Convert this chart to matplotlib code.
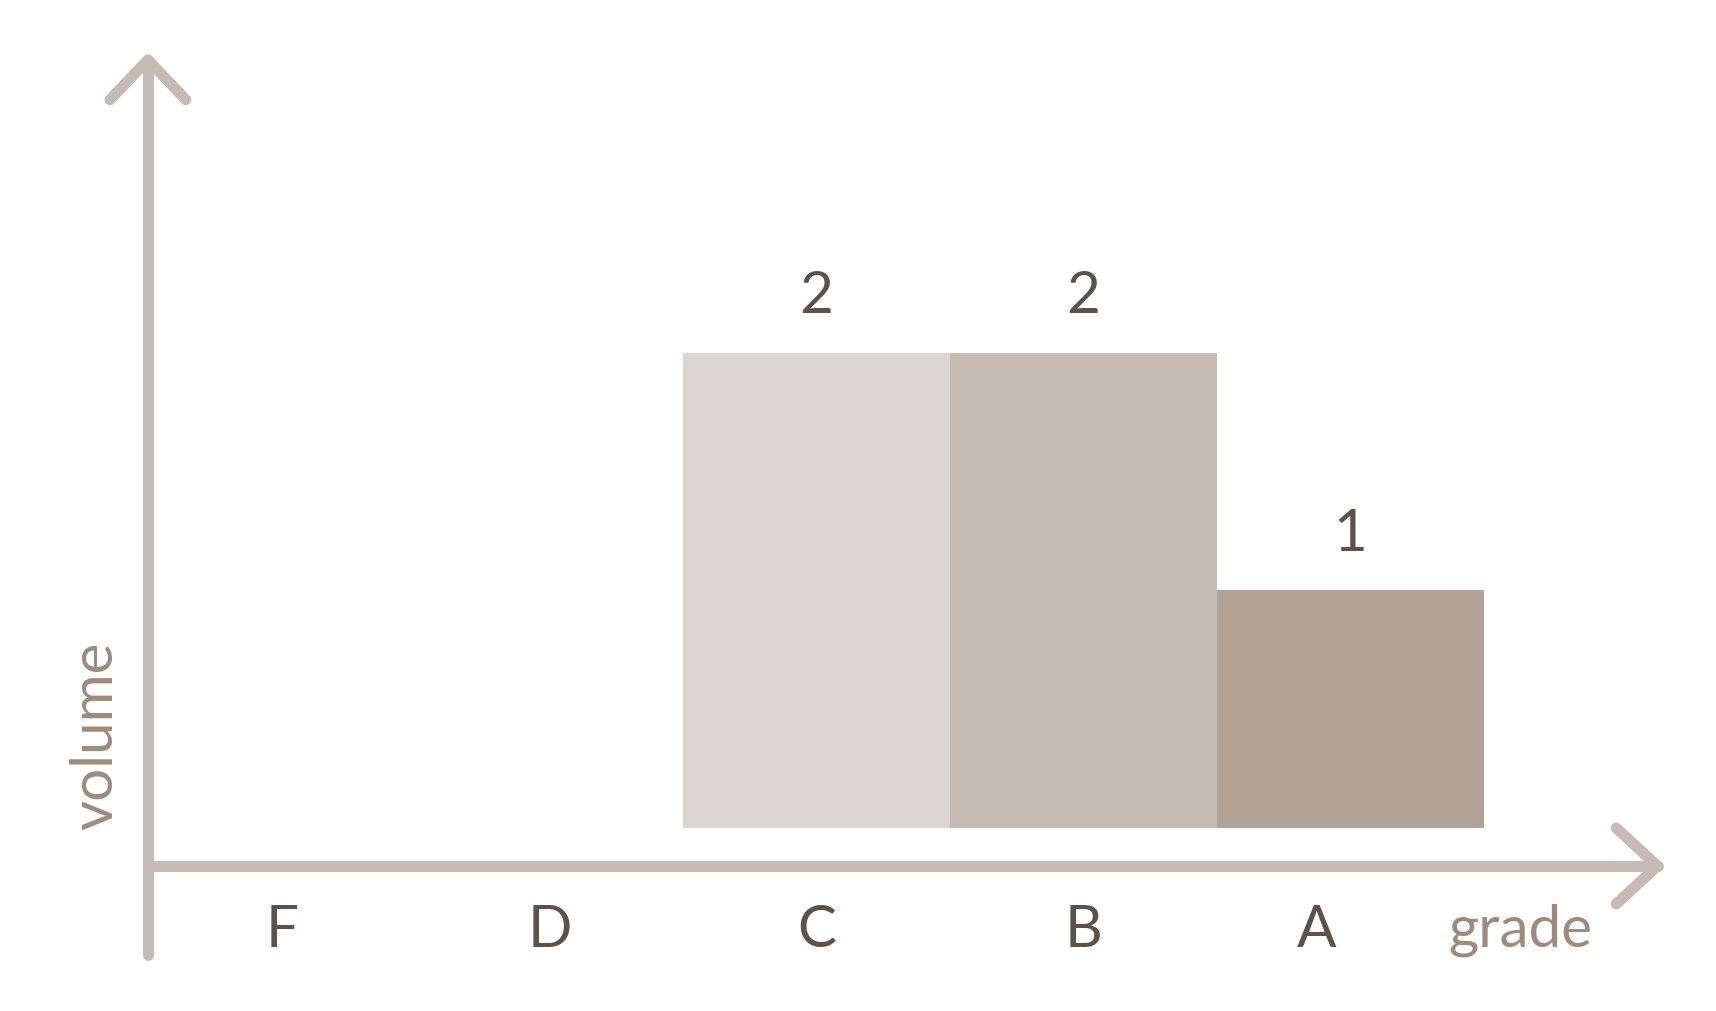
import matplotlib.pyplot as plt

plt.rcParams['font.family'] = ['Lato', 'DejaVu Sans']

grades = ["F", "D", "C", "B", "A"]
volume = [0, 0, 2, 2, 1]
bar_colors = ["#dbd6d1", "#dbd6d1", "#dbd6d1", "#c6bbb2", "#b0a296"]
# the last category label is nudged left to leave room for "grade"
label_shift = [0, 0, 0, 0, -0.126]

axis_col = "#c6bbb2"
dark = "#5e5248"
label_col = "#9d8b7b"

fig = plt.figure(figsize=(17.16, 10.11), dpi=100)
ax = fig.add_axes([0, 0, 1, 1])
ax.set_xlim(-1.058, 5.369)
ax.set_ylim(-0.7705, 3.486)
ax.axis("off")

x = list(range(len(grades)))
ax.bar(x, volume, width=1.0, color=bar_colors, linewidth=0)

# value labels above non-empty bars
for xi, v in zip(x, volume):
    if v > 0:
        ax.text(xi, v + 0.168, str(v), ha="center", va="baseline",
                fontsize=42, color=dark)

# category labels
for xi, g, s in zip(x, grades, label_shift):
    ax.text(xi + s, -0.50, g, ha="center", va="baseline", fontsize=42, color=dark)

# axes drawn as lines with open arrow heads
lw = 7.9
kw = dict(color=axis_col, lw=lw, solid_capstyle="round", solid_joinstyle="round")
ax.plot([-0.504, -0.504], [-0.535, 3.234], **kw)
ax.plot([-0.646, -0.504, -0.362], [3.066, 3.234, 3.066], **kw)
ax.plot([-0.504, 5.15], [-0.16, -0.16], **kw)
ax.plot([4.995, 5.15, 4.995], [0.0, -0.16, -0.32], **kw)

ax.text(4.635, -0.50, "grade", ha="center", va="baseline", fontsize=42,
        color=label_col)
ax.text(-0.698, 0.387, "volume", ha="center", va="center", rotation=90,
        fontsize=42, color=label_col)

fig.savefig("out.png", dpi=100, facecolor="white")
